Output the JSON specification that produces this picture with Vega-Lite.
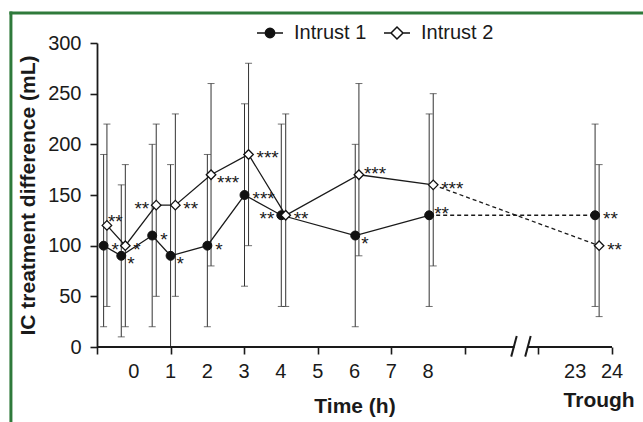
{
  "$schema": "https://vega.github.io/schema/vega-lite/v6.json",
  "width": 515,
  "height": 304,
  "autosize": "none",
  "padding": {"left": 97, "top": 43, "right": 31, "bottom": 75},
  "background": "white",
  "config": {
    "view": {"stroke": null},
    "font": "Liberation Sans",
    "axis": {"grid": false, "labelColor": "#1a1a1a", "titleColor": "#1a1a1a", "tickColor": "#1a1a1a", "domainColor": "#1a1a1a", "labelOverlap": false}
  },
  "datasets": {
    "pts": [
      {"series": "Intrust 1", "pos": -0.82, "val": 100, "lo": 20, "hi": 190, "sig": "*", "side": "r"},
      {"series": "Intrust 1", "pos": -0.34, "val": 90, "lo": 10, "hi": 160, "sig": "*", "side": "lr"},
      {"series": "Intrust 1", "pos": 0.5, "val": 110, "lo": 20, "hi": 200, "sig": "*", "side": "r"},
      {"series": "Intrust 1", "pos": 1.0, "val": 90, "lo": 0, "hi": 180, "sig": "*", "side": "lr"},
      {"series": "Intrust 1", "pos": 2.0, "val": 100, "lo": 20, "hi": 190, "sig": "*", "side": "r"},
      {"series": "Intrust 1", "pos": 3.01, "val": 150, "lo": 60, "hi": 240, "sig": "***", "side": "r"},
      {"series": "Intrust 1", "pos": 4.01, "val": 130, "lo": 40, "hi": 220, "sig": "**", "side": "l"},
      {"series": "Intrust 1", "pos": 6.02, "val": 110, "lo": 20, "hi": 200, "sig": "*", "side": "lr"},
      {"series": "Intrust 1", "pos": 8.03, "val": 130, "lo": 40, "hi": 230, "sig": "**", "side": "ur"},
      {"series": "Intrust 1", "pos": 12.54, "val": 130, "lo": 40, "hi": 220, "sig": "**", "side": "r"},
      {"series": "Intrust 2", "pos": -0.73, "val": 120, "lo": 40, "hi": 220, "sig": "**", "side": "u"},
      {"series": "Intrust 2", "pos": -0.23, "val": 100, "lo": 20, "hi": 180, "sig": "*", "side": "r"},
      {"series": "Intrust 2", "pos": 0.61, "val": 140, "lo": 50, "hi": 220, "sig": "**", "side": "l"},
      {"series": "Intrust 2", "pos": 1.13, "val": 140, "lo": 50, "hi": 230, "sig": "**", "side": "r"},
      {"series": "Intrust 2", "pos": 2.1, "val": 170, "lo": 80, "hi": 260, "sig": "***", "side": "lr"},
      {"series": "Intrust 2", "pos": 3.12, "val": 190, "lo": 100, "hi": 280, "sig": "***", "side": "r"},
      {"series": "Intrust 2", "pos": 4.13, "val": 130, "lo": 40, "hi": 230, "sig": "**", "side": "r"},
      {"series": "Intrust 2", "pos": 6.12, "val": 170, "lo": 90, "hi": 260, "sig": "***", "side": "ur"},
      {"series": "Intrust 2", "pos": 8.14, "val": 160, "lo": 80, "hi": 250, "sig": "***", "side": "r"},
      {"series": "Intrust 2", "pos": 12.65, "val": 100, "lo": 30, "hi": 180, "sig": "**", "side": "r"}
    ],
    "xlabs": [
      {"t": 0, "lab": "0"}, {"t": 1, "lab": "1"}, {"t": 2, "lab": "2"}, {"t": 3, "lab": "3"},
      {"t": 4, "lab": "4"}, {"t": 5, "lab": "5"}, {"t": 6, "lab": "6"}, {"t": 7, "lab": "7"},
      {"t": 8, "lab": "8"}, {"t": 12, "lab": "23"}, {"t": 13, "lab": "24"}
    ]
  },
  "data": {"name": "pts"},
  "layer": [
    {
      "data": {"values": [{}]},
      "mark": {"type": "rule", "color": "#2f7a3b", "strokeWidth": 3, "strokeCap": "square"},
      "encoding": {
        "x": {"datum": -3.34, "type": "quantitative", "scale": {"domain": [-1, 13], "nice": false, "zero": false}},
        "x2": {"datum": 40},
        "y": {"datum": 329.6, "type": "quantitative", "scale": {"domain": [0, 300], "nice": false}}
      }
    },
    {
      "data": {"values": [{}]},
      "mark": {"type": "rule", "color": "#2f7a3b", "strokeWidth": 3, "strokeCap": "square"},
      "encoding": {
        "x": {"datum": -3.34, "type": "quantitative"},
        "y": {"datum": 329.6, "type": "quantitative"},
        "y2": {"datum": -300}
      }
    },
    {
      "mark": {"type": "rule", "color": "#333", "strokeWidth": 1},
      "encoding": {
        "x": {"field": "pos", "type": "quantitative", "title": "Time (h)",
          "axis": {
            "values": [-1, 0, 1, 2, 3, 4, 5, 6, 7, 8, 9, 10, 11, 12, 13],
            "labels": false,
            "domain": false, "tickSize": 7, "tickWidth": 1.6,
            "titleFontSize": 21, "titleFontWeight": "bold", "titlePadding": 41
          }},
        "y": {"field": "lo", "type": "quantitative", "title": "IC treatment difference (mL)",
          "axis": {
            "values": [0, 50, 100, 150, 200, 250, 300],
            "domain": true, "domainWidth": 1.8, "tickSize": 7, "tickWidth": 1.6, "labelFontSize": 20, "labelPadding": 9,
            "titleFontSize": 21, "titleFontWeight": "bold", "titlePadding": 9
          }},
        "y2": {"field": "hi"}
      }
    },
    {
      "mark": {"type": "tick", "orient": "horizontal", "size": 7, "thickness": 1, "color": "#333"},
      "encoding": {
        "x": {"field": "pos", "type": "quantitative", "title": "Time (h)"},
        "y": {"field": "hi", "type": "quantitative", "title": "IC treatment difference (mL)"}
      }
    },
    {
      "mark": {"type": "tick", "orient": "horizontal", "size": 7, "thickness": 1, "color": "#333"},
      "encoding": {
        "x": {"field": "pos", "type": "quantitative", "title": "Time (h)"},
        "y": {"field": "lo", "type": "quantitative", "title": "IC treatment difference (mL)"}
      }
    },
    {
      "transform": [{"filter": "datum.pos <= 8.5"}],
      "mark": {"type": "line", "color": "#1a1a1a", "strokeWidth": 1.3},
      "encoding": {
        "x": {"field": "pos", "type": "quantitative", "title": "Time (h)"},
        "y": {"field": "val", "type": "quantitative", "title": "IC treatment difference (mL)"},
        "detail": {"field": "series"}
      }
    },
    {
      "transform": [{"filter": "datum.pos >= 8"}],
      "mark": {"type": "line", "color": "#1a1a1a", "strokeWidth": 1.3, "strokeDash": [4, 3]},
      "encoding": {
        "x": {"field": "pos", "type": "quantitative", "title": "Time (h)"},
        "y": {"field": "val", "type": "quantitative", "title": "IC treatment difference (mL)"},
        "detail": {"field": "series"}
      }
    },
    {
      "transform": [{"filter": "datum.series == 'Intrust 1'"}],
      "mark": {"type": "point", "shape": "circle", "filled": true, "fill": "#111", "stroke": "#111", "strokeWidth": 1, "size": 80, "opacity": 1},
      "encoding": {
        "x": {"field": "pos", "type": "quantitative", "title": "Time (h)"},
        "y": {"field": "val", "type": "quantitative", "title": "IC treatment difference (mL)"}
      }
    },
    {
      "transform": [{"filter": "datum.series == 'Intrust 2'"}],
      "mark": {"type": "point", "shape": "diamond", "filled": true, "fill": "white", "stroke": "#111", "strokeWidth": 1.3, "size": 90, "opacity": 1},
      "encoding": {
        "x": {"field": "pos", "type": "quantitative", "title": "Time (h)"},
        "y": {"field": "val", "type": "quantitative", "title": "IC treatment difference (mL)"}
      }
    },
    {
      "transform": [{"filter": "datum.side == 'r'"}],
      "mark": {"type": "text", "align": "left", "baseline": "alphabetic", "dx": 8, "dy": 10, "fontSize": 19, "color": "#1a1a1a"},
      "encoding": {
        "x": {"field": "pos", "type": "quantitative", "title": "Time (h)"},
        "y": {"field": "val", "type": "quantitative", "title": "IC treatment difference (mL)"},
        "text": {"field": "sig"}
      }
    },
    {
      "transform": [{"filter": "datum.side == 'lr'"}],
      "mark": {"type": "text", "align": "left", "baseline": "alphabetic", "dx": 6, "dy": 14, "fontSize": 19, "color": "#1a1a1a"},
      "encoding": {
        "x": {"field": "pos", "type": "quantitative", "title": "Time (h)"},
        "y": {"field": "val", "type": "quantitative", "title": "IC treatment difference (mL)"},
        "text": {"field": "sig"}
      }
    },
    {
      "transform": [{"filter": "datum.side == 'ur'"}],
      "mark": {"type": "text", "align": "left", "baseline": "alphabetic", "dx": 5, "dy": 5, "fontSize": 19, "color": "#1a1a1a"},
      "encoding": {
        "x": {"field": "pos", "type": "quantitative", "title": "Time (h)"},
        "y": {"field": "val", "type": "quantitative", "title": "IC treatment difference (mL)"},
        "text": {"field": "sig"}
      }
    },
    {
      "transform": [{"filter": "datum.side == 'u'"}],
      "mark": {"type": "text", "align": "left", "baseline": "alphabetic", "dx": 1, "dy": 3, "fontSize": 19, "color": "#1a1a1a"},
      "encoding": {
        "x": {"field": "pos", "type": "quantitative", "title": "Time (h)"},
        "y": {"field": "val", "type": "quantitative", "title": "IC treatment difference (mL)"},
        "text": {"field": "sig"}
      }
    },
    {
      "transform": [{"filter": "datum.side == 'l'"}],
      "mark": {"type": "text", "align": "right", "baseline": "alphabetic", "dx": -7, "dy": 10, "fontSize": 19, "color": "#1a1a1a"},
      "encoding": {
        "x": {"field": "pos", "type": "quantitative", "title": "Time (h)"},
        "y": {"field": "val", "type": "quantitative", "title": "IC treatment difference (mL)"},
        "text": {"field": "sig"}
      }
    },
    {
      "data": {"values": [{}]},
      "mark": {"type": "rule", "color": "#1a1a1a", "strokeWidth": 1.8},
      "encoding": {
        "x": {"datum": -1, "type": "quantitative"},
        "x2": {"datum": 10.35},
        "y": {"datum": 0, "type": "quantitative"}
      }
    },
    {
      "data": {"values": [{}]},
      "mark": {"type": "rule", "color": "#1a1a1a", "strokeWidth": 1.8},
      "encoding": {
        "x": {"datum": 10.7, "type": "quantitative"},
        "x2": {"datum": 13},
        "y": {"datum": 0, "type": "quantitative"}
      }
    },
    {
      "data": {"values": [{}]},
      "mark": {"type": "rule", "color": "#1a1a1a", "strokeWidth": 2},
      "encoding": {
        "x": {"datum": 10.26, "type": "quantitative"},
        "x2": {"datum": 10.41},
        "y": {"datum": -9.5, "type": "quantitative"},
        "y2": {"datum": 10.8}
      }
    },
    {
      "data": {"values": [{}]},
      "mark": {"type": "rule", "color": "#1a1a1a", "strokeWidth": 2},
      "encoding": {
        "x": {"datum": 10.64, "type": "quantitative"},
        "x2": {"datum": 10.79},
        "y": {"datum": -9.5, "type": "quantitative"},
        "y2": {"datum": 10.8}
      }
    },
    {
      "data": {"name": "xlabs"},
      "mark": {"type": "text", "align": "center", "baseline": "top", "dy": 15, "fontSize": 20, "color": "#1a1a1a"},
      "encoding": {
        "x": {"field": "t", "type": "quantitative", "title": "Time (h)"},
        "y": {"datum": 0, "type": "quantitative"},
        "text": {"field": "lab"}
      }
    },
    {
      "mark": {"type": "point", "strokeWidth": 1.5, "opacity": 0},
      "encoding": {
        "x": {"field": "pos", "type": "quantitative", "title": "Time (h)"},
        "y": {"field": "val", "type": "quantitative", "title": "IC treatment difference (mL)"},
        "shape": {"field": "series", "type": "nominal",
          "scale": {"domain": ["Intrust 1", "Intrust 2"], "range": ["M-1,0L1,0M-0.36,0A0.36,0.36,0,1,0,0.36,0A0.36,0.36,0,1,0,-0.36,0Z", "M-1,0L-0.46,0M0.46,0L1,0M-0.46,0L0,-0.46L0.46,0L0,0.46Z"]},
          "legend": {"title": null, "orient": "none", "legendX": 159, "legendY": -24, "direction": "horizontal", "symbolSize": 676, "symbolStrokeWidth": 1.5, "symbolOpacity": 1, "labelFontSize": 20, "labelColor": "#1a1a1a", "labelOffset": 10, "columnPadding": 14, "padding": 0}},
        "fill": {"field": "series", "type": "nominal",
          "scale": {"domain": ["Intrust 1", "Intrust 2"], "range": ["#111", "white"]},
          "legend": {"title": null, "orient": "none", "legendX": 159, "legendY": -24, "direction": "horizontal", "symbolSize": 676, "symbolStrokeWidth": 1.5, "symbolOpacity": 1, "labelFontSize": 20, "labelColor": "#1a1a1a", "labelOffset": 10, "columnPadding": 14, "padding": 0}},
        "stroke": {"field": "series", "type": "nominal",
          "scale": {"domain": ["Intrust 1", "Intrust 2"], "range": ["#111", "#111"]},
          "legend": {"title": null, "orient": "none", "legendX": 159, "legendY": -24, "direction": "horizontal", "symbolSize": 676, "symbolStrokeWidth": 1.5, "symbolOpacity": 1, "labelFontSize": 20, "labelColor": "#1a1a1a", "labelOffset": 10, "columnPadding": 14, "padding": 0}}
      }
    },
    {
      "data": {"values": [{"label": "Trough"}]},
      "mark": {"type": "text", "align": "center", "baseline": "alphabetic", "dy": 60, "fontSize": 21, "fontWeight": "bold", "color": "#1a1a1a"},
      "encoding": {
        "x": {"datum": 12.65, "type": "quantitative"},
        "y": {"datum": 0, "type": "quantitative"},
        "text": {"field": "label"}
      }
    }
  ]
}
